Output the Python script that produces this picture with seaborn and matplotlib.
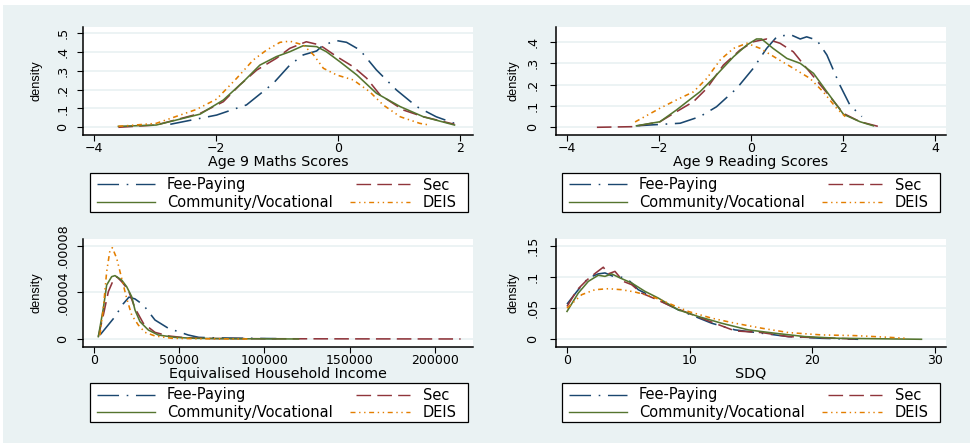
import matplotlib
matplotlib.use("Agg")
import matplotlib.pyplot as plt
import seaborn as sns
from matplotlib.patches import Rectangle
from matplotlib.lines import Line2D

plt.rcParams['lines.scale_dashes'] = False
plt.rcParams['font.family'] = ['DejaVu Sans']

# ---------------- data ----------------
series_names = ["Fee-Paying", "Sec", "Community/Vocational", "DEIS"]

# Age 9 Maths Scores
math_fee_x = [-2.75, -1.99, -1.50, -1.06, -0.79, -0.57, -0.35, -0.24, -0.02, 0.14, 0.36, 0.63, 0.96, 1.29, 1.61, 1.91]
math_fee_y = [0.016, 0.065, 0.119, 0.234, 0.331, 0.385, 0.406, 0.438, 0.461, 0.452, 0.411, 0.305, 0.198, 0.110, 0.056, 0.021]
math_sec_x = [-3.60, -2.98, -2.26, -1.88, -1.61, -1.33, -1.01, -0.79, -0.52, -0.30, -0.02, 0.25, 0.47, 0.69, 1.07, 1.40, 1.91]
math_sec_y = [0.0, 0.012, 0.074, 0.136, 0.225, 0.305, 0.367, 0.420, 0.455, 0.438, 0.376, 0.322, 0.261, 0.172, 0.092, 0.056, 0.016]
math_com_x = [-3.60, -2.98, -2.26, -1.88, -1.55, -1.28, -1.01, -0.79, -0.57, -0.35, -0.19, 0.03, 0.31, 0.63, 1.02, 1.40, 1.91]
math_com_y = [0.005, 0.012, 0.070, 0.145, 0.243, 0.331, 0.376, 0.402, 0.434, 0.429, 0.402, 0.349, 0.278, 0.181, 0.110, 0.056, 0.012]
math_deis_x = [-3.60, -2.98, -2.32, -1.99, -1.66, -1.39, -1.17, -0.95, -0.79, -0.57, -0.40, -0.24, -0.02, 0.25, 0.52, 0.74, 1.02, 1.34, 1.50]
math_deis_y = [0.005, 0.021, 0.095, 0.150, 0.261, 0.358, 0.411, 0.452, 0.458, 0.438, 0.385, 0.314, 0.278, 0.252, 0.189, 0.119, 0.056, 0.021, 0.012]

# Age 9 Reading Scores
read_fee_x = [-2.49, -1.54, -1.11, -0.75, -0.31, 0.05, 0.34, 0.56, 0.85, 1.07, 1.21, 1.43, 1.65, 1.93, 2.15, 2.41]
read_fee_y = [0.007, 0.019, 0.050, 0.096, 0.182, 0.276, 0.369, 0.423, 0.434, 0.413, 0.423, 0.408, 0.338, 0.198, 0.104, 0.050]
read_sec_x = [-3.35, -2.56, -1.98, -1.62, -1.25, -0.96, -0.60, -0.24, 0.05, 0.34, 0.63, 0.92, 1.21, 1.57, 2.01, 2.37, 2.84]
read_sec_y = [0.0, 0.003, 0.026, 0.073, 0.120, 0.182, 0.291, 0.361, 0.400, 0.413, 0.393, 0.353, 0.276, 0.182, 0.065, 0.026, 0.0]
read_com_x = [-2.49, -1.98, -1.62, -1.25, -1.11, -0.82, -0.38, -0.09, 0.12, 0.23, 0.48, 0.78, 1.07, 1.36, 1.65, 2.01, 2.37, 2.66]
read_com_y = [0.007, 0.026, 0.081, 0.143, 0.166, 0.229, 0.330, 0.385, 0.413, 0.413, 0.369, 0.322, 0.299, 0.252, 0.166, 0.061, 0.026, 0.007]
read_deis_x = [-2.52, -1.98, -1.62, -1.25, -0.96, -0.67, -0.38, -0.09, 0.20, 0.56, 0.92, 1.28, 1.57, 1.86, 2.05]
read_deis_y = [0.025, 0.089, 0.128, 0.166, 0.229, 0.315, 0.369, 0.393, 0.369, 0.322, 0.276, 0.229, 0.166, 0.089, 0.050]

# Equivalised Household Income
inc_fee_x = [3519, 12317, 17000, 20500, 24000, 28930, 35777, 43600, 55300, 61460, 67050, 80000, 95000, 107000]
inc_fee_y = [0.34e-5, 1.92e-5, 3.0e-5, 3.6e-5, 3.45e-5, 2.93e-5, 1.63e-5, 0.92e-5, 0.34e-5, 0.14e-5, 0.11e-5, 0.08e-5, 0.05e-5, 0.03e-5]
inc_sec_x = [2540, 5475, 8410, 11340, 13300, 16230, 20140, 24050, 28930, 35777, 43600, 53350, 70000, 100000, 150000, 215000]
inc_sec_y = [0.2e-5, 2.06e-5, 4.07e-5, 5.07e-5, 5.36e-5, 4.93e-5, 4.21e-5, 2.64e-5, 1.35e-5, 0.57e-5, 0.26e-5, 0.11e-5, 0.04e-5, 0.02e-5, 0.01e-5, 0.0]
inc_com_x = [2540, 5475, 7430, 10360, 12317, 16230, 19160, 22100, 24050, 26980, 31870, 37730, 47500, 58670, 80000, 120000]
inc_com_y = [0.2e-5, 2.64e-5, 4.64e-5, 5.36e-5, 5.45e-5, 5.07e-5, 4.5e-5, 3.64e-5, 2.49e-5, 1.49e-5, 0.77e-5, 0.34e-5, 0.14e-5, 0.06e-5, 0.02e-5, 0.0]
inc_deis_x = [3519, 5475, 7430, 9384, 10750, 13300, 16230, 19160, 22100, 26000, 29900, 35777, 45600, 60000, 90000]
inc_deis_y = [0.34e-5, 2.64e-5, 5.79e-5, 7.65e-5, 7.85e-5, 6.94e-5, 5.22e-5, 3.5e-5, 2.06e-5, 1.2e-5, 0.57e-5, 0.26e-5, 0.06e-5, 0.02e-5, 0.0]

# SDQ
sdq_fee_x = [0, 0.92, 1.74, 2.55, 3.10, 3.77, 4.46, 5.13, 5.81, 6.62, 7.72, 9.07, 10.43, 11.79, 13.69, 15.87, 18.04, 20.76, 23.74]
sdq_fee_y = [0.0565, 0.0796, 0.0985, 0.105, 0.1065, 0.101, 0.0995, 0.093, 0.0796, 0.0716, 0.0608, 0.0473, 0.0366, 0.0258, 0.0151, 0.0097, 0.0043, 0.0016, 0.0]
sdq_sec_x = [0, 0.84, 1.66, 2.34, 2.96, 3.37, 3.91, 4.59, 5.27, 6.08, 7.17, 8.53, 9.89, 11.52, 13.69, 15.87, 18.04, 20.2, 23.47]
sdq_sec_y = [0.0527, 0.0796, 0.0958, 0.1065, 0.1157, 0.105, 0.109, 0.093, 0.0877, 0.0742, 0.065, 0.0527, 0.042, 0.0296, 0.0135, 0.0108, 0.0043, 0.0027, 0.0005]
sdq_com_x = [0, 0.92, 1.74, 2.55, 3.10, 3.64, 4.32, 5.27, 6.35, 7.44, 9.07, 10.7, 12.6, 14.78, 16.95, 19.4, 22.1, 28.9]
sdq_com_y = [0.0447, 0.0742, 0.093, 0.1028, 0.101, 0.105, 0.0985, 0.0904, 0.077, 0.0662, 0.0473, 0.0366, 0.0258, 0.0151, 0.0097, 0.0043, 0.0016, 0.0]
sdq_deis_x = [0, 1.20, 2.28, 3.37, 4.45, 5.54, 6.90, 8.26, 9.89, 11.79, 13.69, 15.87, 18.04, 20.76, 23.47, 26.2, 27.6]
sdq_deis_y = [0.05, 0.0716, 0.0796, 0.0812, 0.0796, 0.0759, 0.0689, 0.058, 0.0447, 0.0339, 0.0258, 0.0178, 0.0108, 0.007, 0.0059, 0.0032, 0.0016]

# axis titles and ticks
panel_titles = ["Age 9 Maths Scores", "Age 9 Reading Scores", "Equivalised Household Income", "SDQ"]
math_xticks = [-4, -2, 0, 2]
math_yticks = [0, 0.1, 0.2, 0.3, 0.4, 0.5]
math_ylabels = ["0", ".1", ".2", ".3", ".4", ".5"]
read_xticks = [-4, -2, 0, 2, 4]
read_yticks = [0, 0.1, 0.2, 0.3, 0.4]
read_ylabels = ["0", ".1", ".2", ".3", ".4"]
inc_xticks = [0, 50000, 100000, 150000, 200000]
inc_yticks = [0, 0.00004, 0.00008]
inc_ylabels = ["0", ".00004", ".00008"]
sdq_xticks = [0, 10, 20, 30]
sdq_yticks = [0, 0.05, 0.1, 0.15]
sdq_ylabels = ["0", ".05", ".1", ".15"]

# ---------------- styling ----------------
W, H = 975, 446
BG = "#EAF2F3"
colors = ["#1A476F", "#90353B", "#55752F", "#E37E00"]
styles = [(0, (15.5, 5.5, 1.2, 5.5)),
          (0, (10.5, 4.5)),
          "solid",
          (0, (3.6, 2.6, 1.0, 2.6, 1.0, 2.6))]
LW = 1.15

fig = plt.figure(figsize=(W / 100, H / 100), dpi=100, facecolor="white")
fig.add_artist(Rectangle((3 / W, 1 - 443 / H), 967 / W, 438 / H, transform=fig.transFigure,
                         facecolor=BG, edgecolor="none", zorder=-10))


def fx(px):
    return px / W


def fy(py):
    return 1 - py / H


panels = [
    dict(rect=(83, 27, 390, 108), xlim=(-4.18, 2.213), ylim=(-0.041, 0.5335),
         xs=[math_fee_x, math_sec_x, math_com_x, math_deis_x],
         ys=[math_fee_y, math_sec_y, math_com_y, math_deis_y],
         xt=math_xticks, yt=math_yticks, ytl=math_ylabels, xtl=None,
         ylab_x=-0.1205, ypad=5.5, leg=(90, 173)),
    dict(rect=(556, 27, 390, 108), xlim=(-4.239, 4.239), ylim=(-0.036, 0.469),
         xs=[read_fee_x, read_sec_x, read_com_x, read_deis_x],
         ys=[read_fee_y, read_sec_y, read_com_y, read_deis_y],
         xt=read_xticks, yt=read_yticks, ytl=read_ylabels, xtl=None,
         ylab_x=-0.110, ypad=7.5, leg=(562, 173)),
    dict(rect=(83, 239, 390, 108), xlim=(-6450, 222290), ylim=(-0.0000069, 0.000086),
         xs=[inc_fee_x, inc_sec_x, inc_com_x, inc_deis_x],
         ys=[inc_fee_y, inc_sec_y, inc_com_y, inc_deis_y],
         xt=inc_xticks, yt=inc_yticks, ytl=inc_ylabels, xtl=[str(v) for v in inc_xticks],
         ylab_x=-0.1205, ypad=5.5, leg=(90, 383)),
    dict(rect=(556, 239, 390, 108), xlim=(-0.897, 30.9), ylim=(-0.0124, 0.161),
         xs=[sdq_fee_x, sdq_sec_x, sdq_com_x, sdq_deis_x],
         ys=[sdq_fee_y, sdq_sec_y, sdq_com_y, sdq_deis_y],
         xt=sdq_xticks, yt=sdq_yticks, ytl=sdq_ylabels, xtl=None,
         ylab_x=-0.110, ypad=7.5, leg=(562, 383)),
]

for i, p in enumerate(panels):
    l, t, w, h = p["rect"]
    ax = fig.add_axes([fx(l), fy(t + h), w / W, h / H])
    ax.set_facecolor("white")
    for j in range(4):
        sns.lineplot(x=p["xs"][j], y=p["ys"][j], ax=ax, color=colors[j], linewidth=LW,
                     linestyle=styles[j], sort=False, estimator=None, legend=False)
    ax.set_xlim(*p["xlim"])
    ax.set_ylim(*p["ylim"])
    ax.set_xticks(p["xt"])
    if p["xtl"] is not None:
        ax.set_xticklabels(p["xtl"])
    ax.set_yticks(p["yt"])
    ax.set_yticklabels(p["ytl"], rotation=90, va="center", fontsize=9.2,
                       family="DejaVu Sans")
    ax.grid(axis="y", color=BG, linewidth=1.3, zorder=0)
    ax.grid(axis="x", visible=False)
    ax.set_axisbelow(True)
    for s in ["top", "right"]:
        ax.spines[s].set_visible(False)
    for s in ["left", "bottom"]:
        ax.spines[s].set_linewidth(1.1)
        ax.spines[s].set_color("black")
    ax.tick_params(axis="x", direction="out", length=4.3, width=0.8, pad=1.0, labelsize=9.0)
    ax.tick_params(axis="y", direction="out", length=4.3, width=0.8, pad=p["ypad"])
    ax.set_ylabel("density", fontsize=9.2, family="Liberation Sans")
    ax.yaxis.set_label_coords(p["ylab_x"], 0.5)
    ax.yaxis.label.set_va("center")
    ax.set_xlabel(panel_titles[i], fontsize=10.3)
    ax.xaxis.set_label_coords(0.5, -0.287)
    ax.xaxis.label.set_va("baseline")

    # legend box (Stata style, 2 columns)
    bx, by = p["leg"]
    fig.add_artist(Rectangle((fx(bx), fy(by + 39)), 378 / W, 39 / H, transform=fig.transFigure,
                             facecolor="white", edgecolor="black", linewidth=0.9))
    rows = [by + 11.5, by + 29]
    keys = [(bx + 7, bx + 65, rows[0], bx + 77),
            (bx + 266, bx + 320, rows[0], bx + 333),
            (bx + 7, bx + 65, rows[1], bx + 77),
            (bx + 260, bx + 320, rows[1], bx + 333)]
    for j in range(4):
        x0, x1, yy, tx = keys[j]
        fig.add_artist(Line2D([fx(x0), fx(x1)], [fy(yy), fy(yy)], transform=fig.transFigure,
                              color=colors[j], linewidth=1.0, linestyle=styles[j]))
        fig.text(fx(tx), fy(yy + 5.0), series_names[j], fontsize=10.5, ha="left", va="baseline")

fig.savefig("out.png", dpi=100, facecolor="white")
